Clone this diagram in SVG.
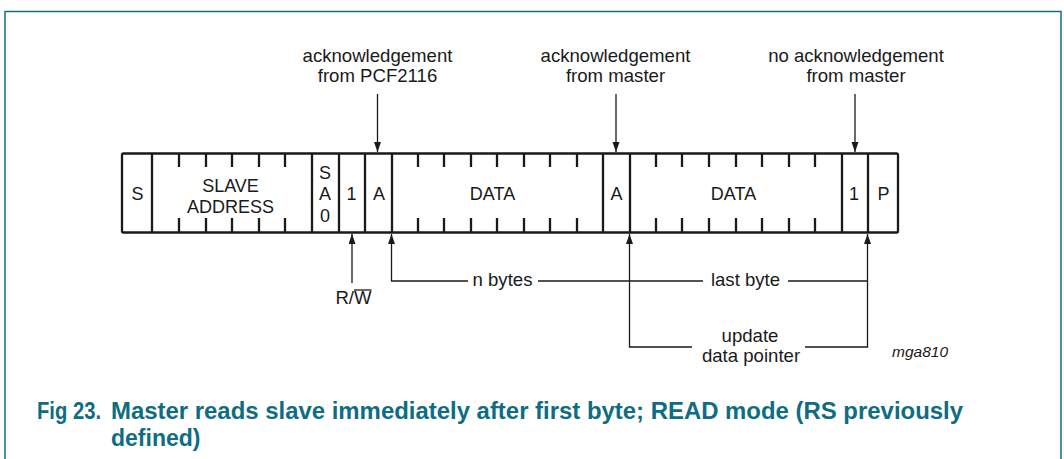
<svg xmlns="http://www.w3.org/2000/svg" width="1064" height="459" viewBox="0 0 1064 459">
<style>
.frame{fill:none;stroke:#136f84;stroke-width:1.5}
.bar{fill:none;stroke:#1a1a1a;stroke-width:2.3;stroke-linejoin:round}
.tick{stroke:#1a1a1a;stroke-width:2.3}
.con{fill:none;stroke:#1a1a1a;stroke-width:1.3}
.t{font-family:"Liberation Sans",Arial,sans-serif;font-size:18px;fill:#1a1a1a;text-anchor:middle}
.lbl{font-family:"Liberation Sans",Arial,sans-serif;font-size:18.6px;fill:#1a1a1a;text-anchor:middle}
.id{font-family:"Liberation Sans",Arial,sans-serif;font-size:15.5px;font-style:italic;fill:#1a1a1a}
.cap{font-family:"Liberation Sans",Arial,sans-serif;font-size:23px;font-weight:bold;fill:#0e6d82}
</style>
<defs>
<marker id="ah" markerUnits="userSpaceOnUse" markerWidth="11" markerHeight="8" refX="10" refY="3.5" orient="auto">
<path d="M0,0 L10,3.5 L0,7 z" fill="#1a1a1a"/>
</marker>
</defs>
<rect class="frame" x="5" y="11.5" width="1056" height="470"/>

<g id="frame-bar">
<rect class="bar" x="122" y="153.5" width="776" height="79" rx="1.5"/>
<path class="tick" d="M152,153.5V232.5 M312,153.5V232.5 M339,153.5V232.5 M365,153.5V232.5 M392,153.5V232.5 M603,153.5V232.5 M630,153.5V232.5 M842,153.5V232.5 M868,153.5V232.5"/>
<path class="tick" d="M179,153.5V167 M206,153.5V167 M232,153.5V167 M259,153.5V167 M285,153.5V167 M179,218V232.5 M206,218V232.5 M232,218V232.5 M259,218V232.5 M285,218V232.5"/>
<path class="tick" d="M418,153.5V167 M444,153.5V167 M471,153.5V167 M497,153.5V167 M524,153.5V167 M550,153.5V167 M577,153.5V167 M418,218V232.5 M444,218V232.5 M471,218V232.5 M497,218V232.5 M524,218V232.5 M550,218V232.5 M577,218V232.5"/>
<path class="tick" d="M656,153.5V167 M682,153.5V167 M709,153.5V167 M736,153.5V167 M762,153.5V167 M789,153.5V167 M815,153.5V167 M656,218V232.5 M682,218V232.5 M709,218V232.5 M736,218V232.5 M762,218V232.5 M789,218V232.5 M815,218V232.5"/>
</g>
<g id="field-s"><text class="t" x="137.5" y="199.5">S</text></g>
<g id="field-slave-address"><text class="t" x="230.5" y="191.5">SLAVE</text><text class="t" x="230.5" y="212.5">ADDRESS</text></g>
<g id="field-sa0"><text class="t" x="325" y="178.5">S</text><text class="t" x="325" y="200">A</text><text class="t" x="325" y="221.5">0</text></g>
<g id="field-rw"><text class="t" x="351.5" y="199.5">1</text></g>
<g id="field-a1"><text class="t" x="379" y="199.5">A</text></g>
<g id="field-data1"><text class="t" x="492.5" y="199.5">DATA</text></g>
<g id="field-a2"><text class="t" x="616.5" y="199.5">A</text></g>
<g id="field-data2"><text class="t" x="733.5" y="199.5">DATA</text></g>
<g id="field-1"><text class="t" x="854" y="199.5">1</text></g>
<g id="field-p"><text class="t" x="883.5" y="199.5">P</text></g>

<g id="label-ack-pcf"><text class="lbl" x="377.5" y="62">acknowledgement</text><text class="lbl" x="377.5" y="82">from PCF2116</text></g>
<g id="label-ack-master"><text class="lbl" x="615.5" y="62">acknowledgement</text><text class="lbl" x="615.5" y="82">from master</text></g>
<g id="label-noack-master"><text class="lbl" x="856" y="62">no acknowledgement</text><text class="lbl" x="856" y="82">from master</text></g>
<g id="label-rw"><text class="lbl" x="353.5" y="304">R/W</text><line x1="354" y1="290" x2="371.5" y2="290" stroke="#1a1a1a" stroke-width="1.3"/></g>
<g id="label-nbytes"><text class="lbl" x="502.5" y="286">n bytes</text></g>
<g id="label-lastbyte"><text class="lbl" x="745.5" y="286">last byte</text></g>
<g id="label-update"><text class="lbl" x="750" y="342">update</text><text class="lbl" x="751" y="362">data pointer</text></g>
<g id="label-id"><text class="id" x="892" y="356.5">mga810</text></g>

<g id="connectors">
<path class="con" d="M377.5,94V152" marker-end="url(#ah)"/>
<path class="con" d="M616,94V152" marker-end="url(#ah)"/>
<path class="con" d="M855,94V152" marker-end="url(#ah)"/>
<path class="con" d="M352,283V234" marker-end="url(#ah)"/>
<path class="con" d="M468,281H391.5V234" marker-end="url(#ah)"/>
<path class="con" d="M538,281H703"/>
<path class="con" d="M788,281H867.5"/>
<path class="con" d="M692,347H629.5V234" marker-end="url(#ah)"/>
<path class="con" d="M805,347H867.5V234" marker-end="url(#ah)"/>
</g>

<g id="caption">
<text class="cap" x="37" y="419" textLength="64" lengthAdjust="spacingAndGlyphs">Fig 23.</text>
<text class="cap" x="111" y="419" textLength="852" lengthAdjust="spacingAndGlyphs">Master reads slave immediately after first byte; READ mode (RS previously</text>
<text class="cap" x="111" y="445.5">defined)</text>
</g>
</svg>
